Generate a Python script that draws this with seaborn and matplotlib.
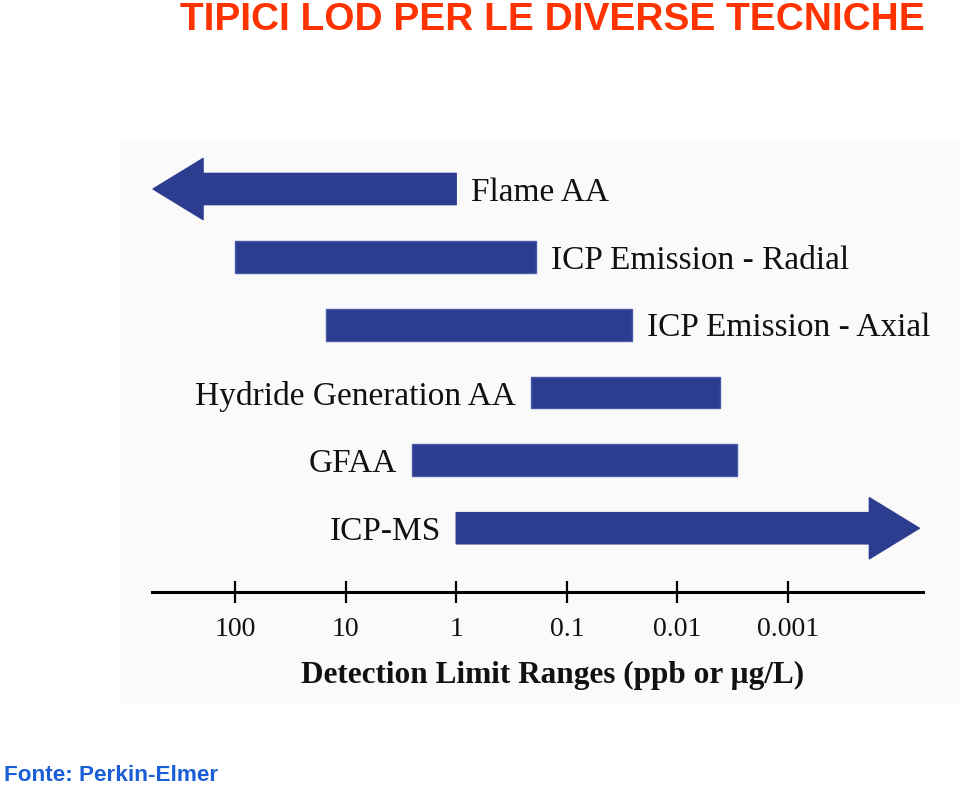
import seaborn as sns
import numpy as np
import pandas as pd
import matplotlib.pyplot as plt
from matplotlib.patches import Rectangle

sns.set_theme(style="white")
plt.rcParams['font.family'] = ['Liberation Serif', 'DejaVu Serif']

# detection limit ranges (ppb), upper = left end, lower = right end
techniques = ['Flame AA', 'ICP Emission - Radial', 'ICP Emission - Axial',
              'Hydride Generation AA', 'GFAA', 'ICP-MS']
upper_ppb = [550, 100, 15, 0.21, 2.5, 1]
lower_ppb = [1, 0.19, 0.026, 0.0041, 0.0029, 6.5e-5]
open_end = ['left', None, None, None, None, 'right']
label_side = ['right', 'right', 'right', 'left', 'left', 'left']
tick_vals = [100, 10, 1, 0.1, 0.01, 0.001]
tick_labels = ['100', '10', '1', '0.1', '0.01', '0.001']

df = pd.DataFrame({'tech': techniques, 'upper': upper_ppb, 'lower': lower_ppb,
                   'open': open_end, 'side': label_side})

bar_col = '#2c3d8f'

fig = plt.figure(figsize=(9.6, 7.88), dpi=100)
fig.patches.append(Rectangle((120/960, 1-702/788), 840/960, 562/788,
                             transform=fig.transFigure, color='#fafafa', zorder=-5))
ax = fig.add_axes([152/960, 1-592/788, (923-152)/960, (592-150)/788])
ax.set_zorder(2)
ax.patch.set_alpha(0)

ax.set_xscale('log')
ax.set_xlim(10**2.75, 10**-4.22)
ax.set_ylim(5.94, -0.575)

for i, r in df.iterrows():
    if r['open'] is None:
        ax.barh(i, r['lower'] - r['upper'], left=r['upper'], height=0.47,
                color=bar_col, edgecolor='#4a5aa8', linewidth=1)
    else:
        if r['open'] == 'left':
            start, tip = r['lower'], r['upper']
        else:
            start, tip = r['upper'], r['lower']
        ax.annotate('', xy=(tip, i), xytext=(start, i), annotation_clip=False,
                    arrowprops=dict(arrowstyle='simple,head_length=36,head_width=44,tail_width=22.5',
                                    mutation_scale=1, color=bar_col, shrinkA=0, shrinkB=0))
    if r['side'] == 'right':
        ax.annotate(r['tech'], xy=(r['lower'], i), xytext=(11, -2.5), textcoords='offset points',
                    ha='left', va='center', fontsize=24, color='#111111')
    else:
        ax.annotate(r['tech'], xy=(r['upper'], i), xytext=(-11, -2.5), textcoords='offset points',
                    ha='right', va='center', fontsize=24, color='#111111')

for s in ['top', 'left', 'right']:
    ax.spines[s].set_visible(False)
ax.spines['bottom'].set_linewidth(2.2)
ax.spines['bottom'].set_color('black')
ax.set_yticks([])
ax.set_xticks(tick_vals)
ax.set_xticklabels(tick_labels, fontsize=20)
ax.minorticks_off()
ax.tick_params(axis='x', direction='inout', length=16, width=1.6, color='black', pad=10,
               bottom=True, labelcolor='#111111')
ax.set_xlabel('Detection Limit Ranges (ppb or µg/L)', fontsize=22.5, fontweight='bold',
              color='#111111')
ax.xaxis.set_label_coords((553-152)/(923-152), -0.155)

fig.text(552/960, 1-2/788, 'TIPICI LOD PER LE DIVERSE TECNICHE', ha='center', va='top',
         fontsize=28, fontweight='bold', color='#ff3300', family=['Liberation Sans', 'DejaVu Sans'])
fig.text(4/960, 1-786/788, 'Fonte: Perkin-Elmer', ha='left', va='bottom',
         fontsize=16.2, fontweight='bold', color='#1a5fd6', family=['Liberation Sans', 'DejaVu Sans'])

fig.savefig('out.png', dpi=100)
